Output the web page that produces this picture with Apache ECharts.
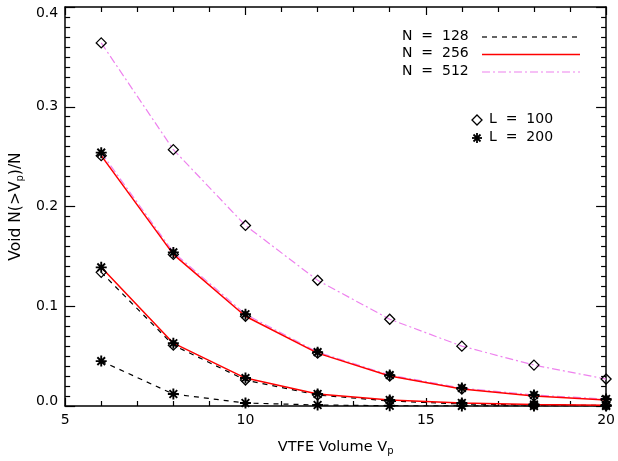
<!DOCTYPE html>
<html>
<head>
<meta charset="utf-8">
<script src="https://cdn.jsdelivr.net/npm/echarts@6/dist/echarts.min.js"></script>
<style>
  html, body { margin: 0; padding: 0; background: #fff; }
  #chart { width: 618px; height: 461px; }
</style>
</head>
<body>
<div id="chart"></div>
<script>
// VTFE volume bins (x) and void fractions
const vtfeVolume = [6, 8, 10, 12, 14, 16, 18, 20];

const n128L100 = [0.134, 0.061, 0.026, 0.011, 0.005, 0.002, 0.001, 0.0005];
const n128L200 = [0.045, 0.012, 0.003, 0.001, 0.0003, 0.0001, 0, 0];
const n256L100 = [0.251, 0.152, 0.090, 0.053, 0.030, 0.017, 0.010, 0.006];
const n256L200 = [0.139, 0.063, 0.028, 0.012, 0.006, 0.003, 0.0015, 0.0008];
const n512L100 = [0.364, 0.257, 0.181, 0.126, 0.087, 0.060, 0.041, 0.027];
const n512L200 = [0.254, 0.154, 0.092, 0.054, 0.031, 0.018, 0.011, 0.007];

const legendN = ["N  =  128", "N  =  256", "N  =  512"];
const legendL = ["L  =  100", "L  =  200"];

const xTicks = [5, 10, 15, 20];

const font = "DejaVu Sans";

// IDL style lines
const styleN = {
  128: { color: "#000000", width: 1.2, type: [5, 5] },
  256: { color: "#ff0000", width: 1.5, type: "solid" },
  512: { color: "#ee82ee", width: 1.2, type: [8, 3, 2, 3] }
};

const asterisk = "path://M5 0L5 10M0 5L10 5M1.5 1.5L8.5 8.5M8.5 1.5L1.5 8.5";

function pairs(ys) {
  return vtfeVolume.map((x, i) => [x, ys[i]]);
}

function createSeries(name, ys, n, marker) {
  const s = styleN[n];
  const isDiamond = marker === "diamond";
  return {
    name,
    type: "line",
    data: pairs(ys),
    lineStyle: { color: s.color, width: s.width, type: s.type },
    symbol: isDiamond ? "diamond" : asterisk,
    symbolSize: isDiamond ? 10 : 11,
    itemStyle: {
      color: "rgba(255,255,255,0)",
      borderColor: "#000",
      borderWidth: isDiamond ? 1.3 : 1.9
    },
    silent: true,
    animation: false
  };
}

const baseAxis = {
  axisLine: { show: true, onZero: false, lineStyle: { color: "#000", width: 1.5 } },
  splitLine: { show: false },
  minorSplitLine: { show: false }
};

const subRich = { sub: { fontSize: 10, fontFamily: font, color: "#000", padding: [8, 0, 0, 0] } };

function xAxis(position, showLabel) {
  return {
    ...baseAxis,
    type: "value",
    position,
    min: 5,
    max: 20,
    interval: 5,
    axisTick: { show: true, inside: true, length: 8, lineStyle: { color: "#000", width: 1.2 } },
    minorTick: { show: true, splitNumber: 5, length: 5, lineStyle: { color: "#000", width: 1.2 } },
    axisLabel: {
      show: showLabel,
      color: "#000",
      fontFamily: font,
      fontSize: 14,
      margin: 7,
      formatter: v => (xTicks.includes(v) ? String(v) : "")
    },
    name: showLabel ? "VTFE Volume V{sub|p}" : "",
    nameLocation: "middle",
    nameGap: 32,
    nameTextStyle: { color: "#000", fontFamily: font, fontSize: 14.5, rich: subRich }
  };
}

// end labels sit a little inside the frame, as in the original
const yLabelRich = {
  lo: { fontFamily: font, fontSize: 14, color: "#000", padding: [0, 0, 10, 0] },
  hi: { fontFamily: font, fontSize: 14, color: "#000", padding: [12, 0, 0, 0] }
};

function yAxis(position, showLabel) {
  return {
    ...baseAxis,
    type: "value",
    position,
    min: 0,
    max: 0.4,
    interval: 0.1,
    axisTick: { show: true, inside: true, length: 10, lineStyle: { color: "#000", width: 1.2 } },
    minorTick: { show: true, splitNumber: 10, length: 5, lineStyle: { color: "#000", width: 1.2 } },
    axisLabel: {
      show: showLabel,
      color: "#000",
      fontFamily: font,
      fontSize: 14,
      margin: 7,
      rich: yLabelRich,
      formatter: v => {
        const t = v.toFixed(1);
        if (v === 0) return "{lo|" + t + "}";
        if (Math.abs(v - 0.4) < 1e-9) return "{hi|" + t + "}";
        return t;
      }
    },
    name: showLabel ? "Void N(>V{sub|p})/N" : "",
    nameLocation: "middle",
    nameGap: 40,
    nameTextStyle: { color: "#000", fontFamily: font, fontSize: 15.5, rich: subRich }
  };
}

// legend drawn as graphic text + line samples
const legendGraphics = [];
[128, 256, 512].forEach((n, i) => {
  const y = 37 + i * 17.5;
  const s = styleN[n];
  legendGraphics.push({
    type: "text",
    left: 402,
    top: y - 8,
    style: { text: legendN[i], fill: "#000", font: "14px " + font }
  });
  legendGraphics.push({
    type: "line",
    shape: { x1: 482, y1: y, x2: 580, y2: y },
    style: { stroke: s.color, lineWidth: s.width, lineDash: s.type === "solid" ? null : s.type }
  });
});
legendL.forEach((label, i) => {
  const y = 120 + i * 18;
  if (i === 0) {
    legendGraphics.push({
      type: "polygon",
      shape: { points: [[477, y - 5], [482, y], [477, y + 5], [472, y]] },
      style: { fill: "none", stroke: "#000", lineWidth: 1.3 }
    });
  } else {
    legendGraphics.push({
      type: "group",
      children: [
        { type: "line", shape: { x1: 477, y1: y - 5, x2: 477, y2: y + 5 }, style: { stroke: "#000", lineWidth: 1.8 } },
        { type: "line", shape: { x1: 472, y1: y, x2: 482, y2: y }, style: { stroke: "#000", lineWidth: 1.8 } },
        { type: "line", shape: { x1: 473.5, y1: y - 3.5, x2: 480.5, y2: y + 3.5 }, style: { stroke: "#000", lineWidth: 1.8 } },
        { type: "line", shape: { x1: 480.5, y1: y - 3.5, x2: 473.5, y2: y + 3.5 }, style: { stroke: "#000", lineWidth: 1.8 } }
      ]
    });
  }
  legendGraphics.push({
    type: "text",
    left: 489,
    top: y - 8,
    style: { text: label, fill: "#000", font: "14px " + font }
  });
});

const chart = echarts.init(document.getElementById("chart"), null, { renderer: "canvas" });
chart.setOption({
  animation: false,
  backgroundColor: "#fff",
  grid: { left: 61, right: 10, top: 7, bottom: 51 },
  xAxis: [xAxis("bottom", true), xAxis("top", false)],
  yAxis: [yAxis("left", true), yAxis("right", false)],
  series: [
    createSeries("N=512 L=100", n512L100, 512, "diamond"),
    createSeries("N=512 L=200", n512L200, 512, "asterisk"),
    createSeries("N=128 L=100", n128L100, 128, "diamond"),
    createSeries("N=128 L=200", n128L200, 128, "asterisk"),
    createSeries("N=256 L=100", n256L100, 256, "diamond"),
    createSeries("N=256 L=200", n256L200, 256, "asterisk")
  ],
  graphic: legendGraphics
});
</script>
</body>
</html>
